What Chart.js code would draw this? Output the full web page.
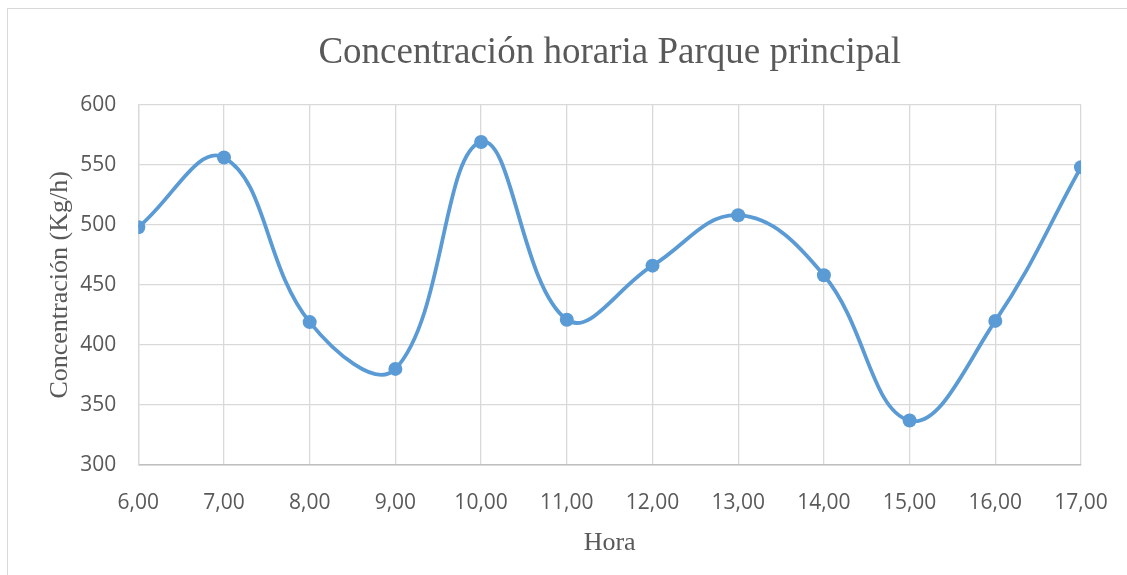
<!DOCTYPE html>
<html lang="es">
<head>
<meta charset="utf-8">
<title>Concentración horaria Parque principal</title>
<script src="https://cdn.jsdelivr.net/npm/chart.js@4"></script>
<style>
    html, body { margin: 0; padding: 0; background: #fff; overflow: hidden; }
    #wrap { position: relative; width: 1127px; height: 575px; }
    #frame {
        position: absolute; left: 7px; top: 8px; right: -20px; bottom: -20px;
        border-left: 1.5px solid #d9d9d9; border-top: 1.5px solid #d9d9d9;
    }
    #chart { position: absolute; left: 0; top: 0; }
</style>
</head>
<body>
<div id="wrap">
    <div id="frame"></div>
    <canvas id="chart" width="1127" height="575"></canvas>
</div>
<script>
// horas del día y concentración medida (Kg/h)
const horas = [6, 7, 8, 9, 10, 11, 12, 13, 14, 15, 16, 17];
const concentracion = [498, 556, 419, 380, 569, 421, 466, 508, 458, 337, 420, 548];

const yMin = 300;
const yMax = 600;
const yStep = 50;

const serif = '"Liberation Serif", "Times New Roman", serif';
const sans = '"Open Sans", "Noto Sans", sans-serif';
const textColor = '#595959';
const gridColor = '#d9d9d9';

const puntos = horas.map((h, i) => ({ x: h, y: concentracion[i] }));

const ctx = document.getElementById('chart').getContext('2d');
new Chart(ctx, {
    type: 'line',
    data: {
        datasets: [{
            label: 'Concentración',
            data: puntos,
            borderColor: '#5b9bd5',
            backgroundColor: '#5b9bd5',
            borderWidth: 3.8,
            pointRadius: 7,
            pointBorderWidth: 0,
            pointBackgroundColor: '#5b9bd5',
            tension: 0.4,
            fill: false
        }]
    },
    options: {
        responsive: false,
        animation: false,
        devicePixelRatio: 1,
        layout: { padding: { left: 0, right: 46, top: 0, bottom: 0 } },
        plugins: {
            legend: { display: false },
            tooltip: { enabled: false },
            title: {
                display: true,
                text: 'Concentración horaria Parque principal',
                color: textColor,
                fullSize: false,
                font: { family: serif, size: 37, weight: 'normal' },
                padding: { top: 31, bottom: 29.3 }
            }
        },
        scales: {
            x: {
                type: 'linear',
                min: horas[0],
                max: horas[horas.length - 1],
                afterFit: (scale) => {
                    scale.height = 110;
                    // las etiquetas de los extremos caben en el margen
                    scale.paddingLeft = 0;
                    scale.paddingRight = 0;
                },
                ticks: {
                    stepSize: 1,
                    color: textColor,
                    font: { family: sans, size: 21 },
                    padding: 25,
                    maxRotation: 0,
                    callback: (v) => v.toFixed(2).replace('.', ',')
                },
                grid: { color: gridColor, lineWidth: 1.3, drawTicks: false },
                border: { color: '#bfbfbf', width: 1.6 },
                title: {
                    display: true,
                    text: 'Hora',
                    color: textColor,
                    font: { family: serif, size: 26 },
                    padding: { top: 0, bottom: 16.4 }
                }
            },
            y: {
                min: yMin,
                max: yMax,
                afterFit: (scale) => { scale.width = 138.3; },
                ticks: {
                    stepSize: yStep,
                    color: textColor,
                    font: { family: sans, size: 21 },
                    padding: 22
                },
                grid: { color: gridColor, lineWidth: 1.3, drawTicks: false },
                border: { color: gridColor, width: 1.3 },
                title: {
                    display: true,
                    text: 'Concentración (Kg/h)',
                    color: textColor,
                    font: { family: serif, size: 26 },
                    padding: { top: 44.4, bottom: 0 }
                }
            }
        }
    }
});
</script>
</body>
</html>
